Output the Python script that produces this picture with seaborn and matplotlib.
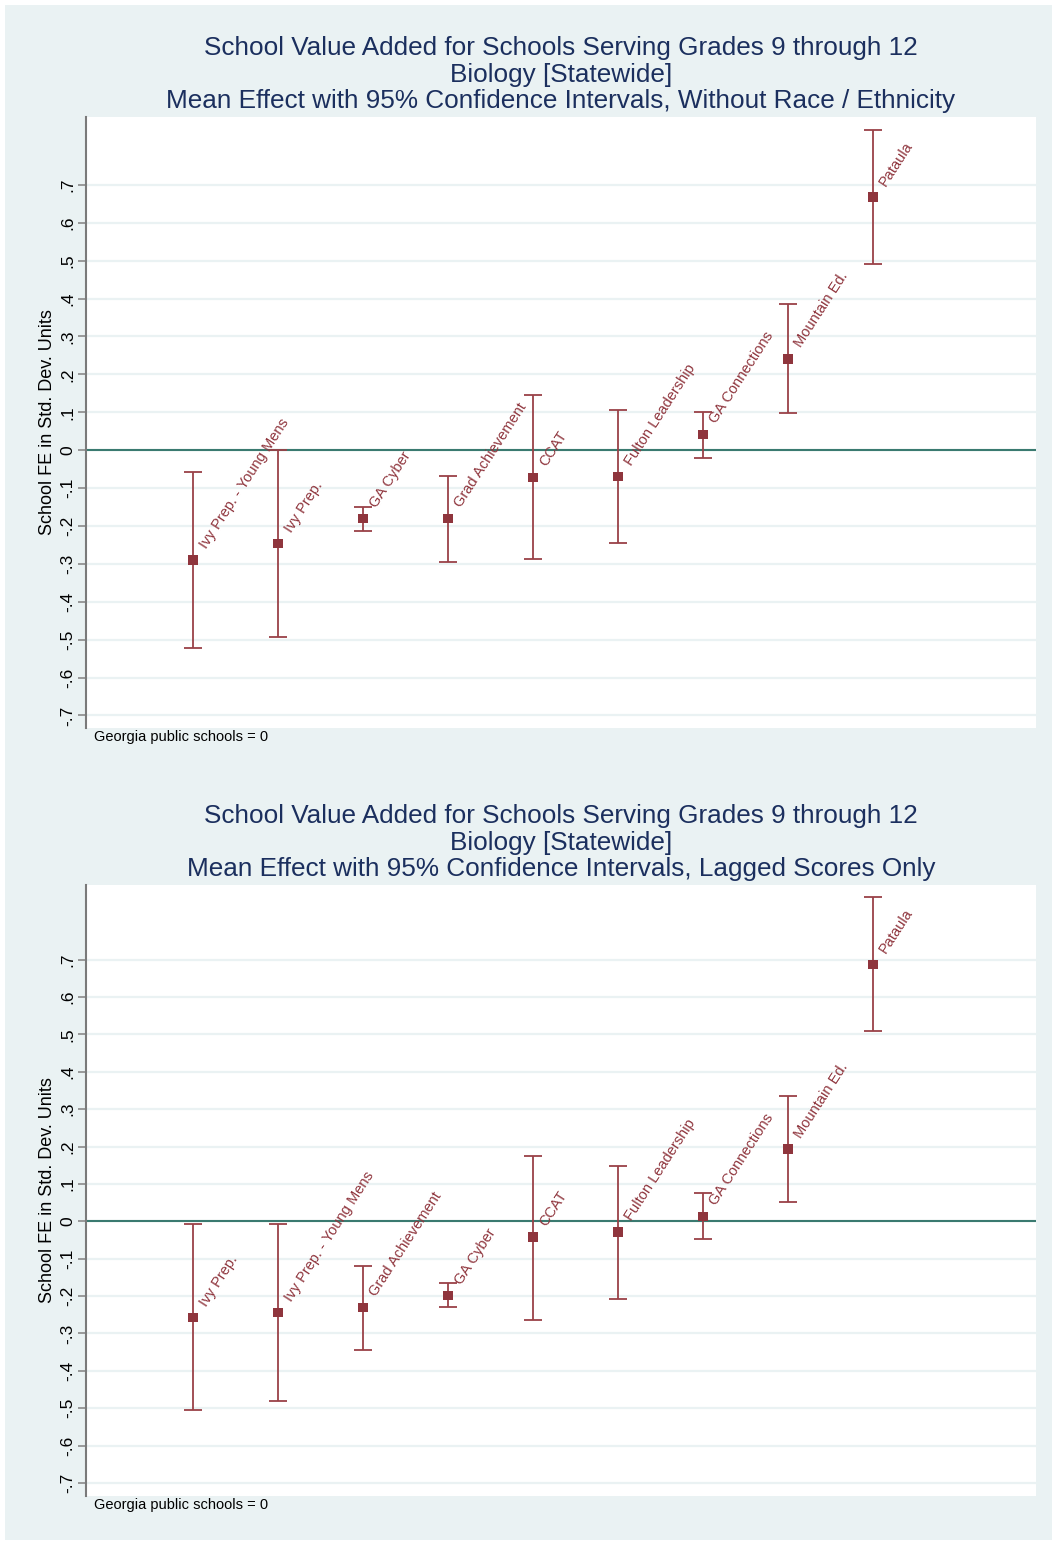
import numpy as np
import pandas as pd
import matplotlib
matplotlib.use("Agg")
import matplotlib.pyplot as plt
import seaborn as sns
from matplotlib.patches import Rectangle

# values (mean and 95% CI bounds)
schools_top = ["Ivy Prep. - Young Mens", "Ivy Prep.", "GA Cyber", "Grad Achievement", "CCAT",
               "Fulton Leadership", "GA Connections", "Mountain Ed.", "Pataula"]
mean_top = [-0.290, -0.246, -0.180, -0.180, -0.072, -0.069, 0.041, 0.241, 0.668]
lo_top = [-0.523, -0.493, -0.213, -0.295, -0.288, -0.245, -0.021, 0.097, 0.491]
hi_top = [-0.057, 0.000, -0.149, -0.068, 0.145, 0.107, 0.101, 0.385, 0.844]

schools_bot = ["Ivy Prep.", "Ivy Prep. - Young Mens", "Grad Achievement", "GA Cyber", "CCAT",
               "Fulton Leadership", "GA Connections", "Mountain Ed.", "Pataula"]
mean_bot = [-0.257, -0.244, -0.231, -0.198, -0.042, -0.029, 0.013, 0.193, 0.687]
lo_bot = [-0.506, -0.480, -0.344, -0.228, -0.264, -0.207, -0.047, 0.051, 0.508]
hi_bot = [-0.007, -0.007, -0.119, -0.165, 0.176, 0.149, 0.075, 0.336, 0.867]

titles_top = ["School Value Added for Schools Serving Grades 9 through 12",
              "Biology [Statewide]",
              "Mean Effect with 95% Confidence Intervals, Without Race / Ethnicity"]
titles_bot = ["School Value Added for Schools Serving Grades 9 through 12",
              "Biology [Statewide]",
              "Mean Effect with 95% Confidence Intervals, Lagged Scores Only"]

yticks = [round(v, 1) for v in np.arange(-0.7, 0.71, 0.1)]

BG = "#EAF2F3"
RED = "#8F353D"
NAVY = "#1B2F5E"
TEAL = "#3A7A70"

sns.set_theme(style="white")
plt.rcParams["font.family"] = ["Liberation Sans", "DejaVu Sans"]

W, H = 1055, 1543
fig = plt.figure(figsize=(W / 100, H / 100), dpi=100, facecolor="white")
fig.patches.append(Rectangle((5 / W, 3 / H), 1047 / W, 1535 / H, transform=fig.transFigure,
                             facecolor=BG, edgecolor="none", zorder=-10))


def fmt(v):
    if abs(v) < 1e-9:
        return "0"
    return f"{v:.1f}".replace("0.", ".")


def panel(top_px, schools, mean, lo, hi, titles, ylim):
    left, right, bottom = 86, 1036, top_px + 611
    ax = fig.add_axes([left / W, 1 - bottom / H, (right - left) / W, 611 / H])
    ax.set_facecolor("white")
    df = pd.DataFrame({"school": schools, "mean": mean, "lo": lo, "hi": hi})
    df["rank"] = np.arange(1, len(df) + 1)

    for y in yticks:
        ax.axhline(y, color=BG, lw=1.6, zorder=1)
    ax.axhline(0, color=TEAL, lw=1.5, zorder=2)

    ax.errorbar(df["rank"], df["mean"], yerr=[df["mean"] - df["lo"], df["hi"] - df["mean"]],
                fmt="none", ecolor="#9A4148", elinewidth=1.3, capsize=6.5, capthick=1.3, zorder=3)
    sns.scatterplot(data=df, x="rank", y="mean", marker="s", s=48, color=RED,
                    edgecolor="none", ax=ax, zorder=4, legend=False)
    for _, r in df.iterrows():
        ax.annotate(r["school"], (r["rank"], r["mean"]), xytext=(9.5, 7.5), textcoords="offset points",
                    rotation=57, rotation_mode="anchor", ha="left", va="baseline",
                    color=RED, fontsize=10.5, zorder=5)

    ax.set_xlim(-0.259, 10.918)
    ax.set_ylim(*ylim)
    ax.set_xticks([])
    ax.set_yticks(yticks)
    ax.set_yticklabels([fmt(v) for v in yticks], rotation=90, va="center")
    ax.tick_params(axis="y", length=5.5, width=1.2, color="#8a8a8a", pad=2, labelsize=12.5,
                   left=True, labelcolor="black")
    for s in ["top", "right", "bottom"]:
        ax.spines[s].set_visible(False)
    ax.spines["left"].set_color("#7a7a7a")
    ax.spines["left"].set_linewidth(1.5)
    ax.set_xlabel("")
    ax.set_ylabel("School FE in Std. Dev. Units", fontsize=13, color="black", labelpad=3)

    cx = (left + right) / 2 / W
    for i, t in enumerate(titles):
        fig.text(cx, 1 - (top_px - 68.5 + 26.3 * i) / H, t, ha="center", va="center",
                 fontsize=18.8, color=NAVY)
    fig.text(94 / W, 1 - (bottom + 9) / H, "Georgia public schools = 0", ha="left", va="center",
             fontsize=10.5, color="black")
    return ax


panel(117, schools_top, mean_top, lo_top, hi_top, titles_top, (-0.733, 0.879))
panel(885, schools_bot, mean_bot, lo_bot, hi_bot, titles_bot, (-0.735, 0.900))

plt.savefig("out.png", dpi=100, facecolor=fig.get_facecolor())
